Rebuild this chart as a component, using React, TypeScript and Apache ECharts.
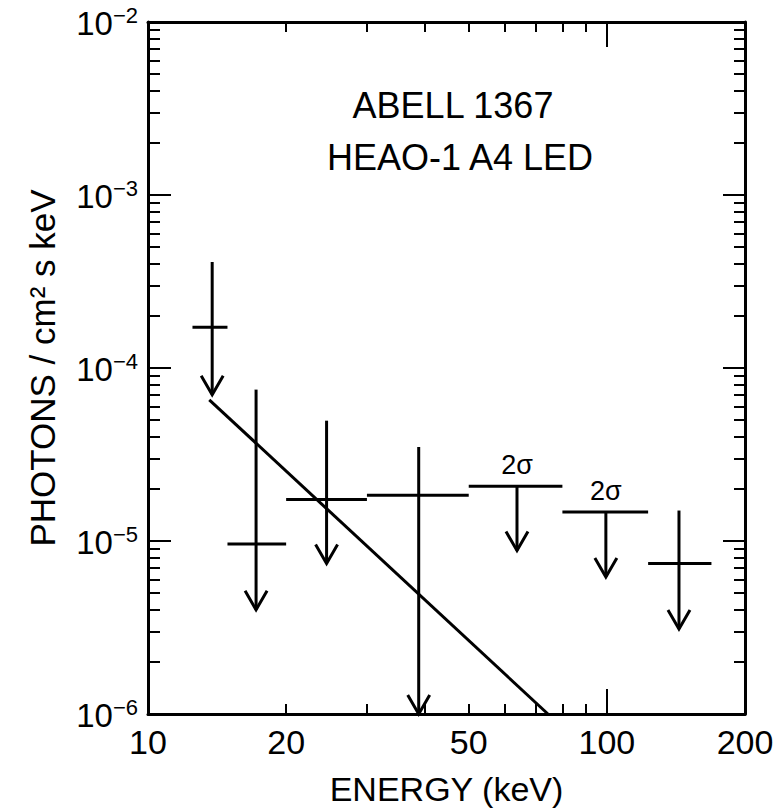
import React, { useEffect, useRef } from "react";
import * as echarts from "echarts";

// ---- data (energies in keV, flux in photons / cm^2 s keV) ----
const energyCenter = [13.8, 17.2, 24.5, 38.9, 63.7, 99.5, 143.6];
const energyLow = [12.5, 14.9, 20, 30, 50, 80, 123];
const energyHigh = [14.9, 20, 30, 50, 80, 123, 169];
const flux = [1.72e-4, 9.6e-6, 1.74e-5, 1.84e-5, 2.07e-5, 1.47e-5, 7.4e-6];
const fluxUpper = [4.1e-4, 7.5e-5, 4.96e-5, 3.5e-5, 2.07e-5, 1.47e-5, 1.5e-5];
const fluxArrowTip = [7.0e-5, 4.0e-6, 7.4e-6, 1.0e-6, 8.8e-6, 6.2e-6, 3.1e-6];
const twoSigma = [false, false, false, false, true, true, false];

const modelEnergy = [13.6, 74.4];
const modelFlux = [6.55e-5, 1.0e-6];

const xLabelValues = [10, 20, 50, 100, 200];
const xMinorTickValues = [20, 30, 40, 50, 60, 70, 80, 90];
const xMajorTickValues = [100];
const yDecades = [-6, -5, -4, -3, -2];

const titleLines = ["ABELL 1367", "HEAO-1 A4 LED"];

const FONT = '"Liberation Sans", Arial, sans-serif';
const L = Math.log10;

export default function App() {
  const ref = useRef<HTMLDivElement>(null);
  useEffect(() => {
    if (!ref.current) return;
    const chart = echarts.init(ref.current, null, { renderer: "svg" });

    const xMin = L(10);
    const xMax = L(200);
    const yMin = -6;
    const yMax = -2;

    const yMinorTicks: number[] = [];
    for (let e = -6; e < -2; e++) {
      for (let k = 2; k <= 9; k++) yMinorTicks.push(L(k * Math.pow(10, e)));
    }
    const yMajorTicks = yDecades.filter((d) => d > yMin && d < yMax);

    const baseX = (pos: string, ticks: number[], len: number, showLine: boolean, showLabel: boolean) => ({
      type: "value",
      position: pos,
      min: xMin,
      max: xMax,
      splitLine: { show: false },
      axisLine: { show: showLine, lineStyle: { color: "#000", width: 3 } },
      axisTick: {
        show: true,
        inside: true,
        length: len,
        customValues: ticks,
        lineStyle: { color: "#000", width: 2 },
      },
      axisLabel: showLabel
        ? {
            show: true,
            customValues: xLabelValues.map(L),
            formatter: (v: number) => String(Math.round(Math.pow(10, v))),
            color: "#000",
            fontSize: 34,
            fontFamily: FONT,
            margin: 11,
          }
        : { show: false },
    });

    const baseY = (pos: string, ticks: number[], len: number, showLine: boolean, showLabel: boolean) => ({
      type: "value",
      position: pos,
      min: yMin,
      max: yMax,
      splitLine: { show: false },
      axisLine: { show: showLine, lineStyle: { color: "#000", width: 3 } },
      axisTick: {
        show: true,
        inside: true,
        length: len,
        customValues: ticks,
        lineStyle: { color: "#000", width: 2 },
      },
      axisLabel: showLabel
        ? {
            show: true,
            customValues: yDecades,
            formatter: (v: number) => `{b|10}{s|\u2212${-Math.round(v)}}`,
            margin: 10,
            rich: {
              b: { fontSize: 33, fontFamily: FONT, color: "#000", verticalAlign: "bottom", lineHeight: 36 },
              s: { fontSize: 22, fontFamily: FONT, color: "#000", verticalAlign: "top", lineHeight: 22 },
            },
          }
        : { show: false },
    });

    const xAxes: any[] = [
      {
        ...baseX("bottom", xMinorTickValues.map(L), 10, true, true),
        name: "ENERGY (keV)",
        nameLocation: "middle",
        nameGap: 58,
        nameTextStyle: { fontSize: 34, fontFamily: FONT, color: "#000" },
      },
      baseX("bottom", xMajorTickValues.map(L), 25, false, false),
      baseX("top", xMinorTickValues.map(L), 10, true, false),
      baseX("top", xMajorTickValues.map(L), 25, false, false),
    ];
    const yAxes: any[] = [
      {
        ...baseY("left", yMinorTicks, 12, true, true),
        name: "PHOTONS / cm\u00B2 s keV",
        nameLocation: "middle",
        nameRotate: 90,
        nameGap: 88,
        nameTextStyle: { fontSize: 35, fontFamily: FONT, color: "#000" },
      },
      baseY("left", yMajorTicks, 23, false, false),
      baseY("right", yMinorTicks, 11, true, false),
      baseY("right", yMajorTicks, 22, false, false),
    ];

    const errData = energyCenter.map((c, i) => [
      L(c),
      L(energyLow[i]),
      L(energyHigh[i]),
      L(flux[i]),
      L(fluxUpper[i]),
      L(fluxArrowTip[i]),
      twoSigma[i] ? 1 : 0,
    ]);

    const stroke = { stroke: "#000", lineWidth: 3, fill: "none" };

    const option: any = {
      animation: false,
      backgroundColor: "#fff",
      grid: { left: 148, right: 36, top: 22, bottom: 93, containLabel: false },
      xAxis: xAxes,
      yAxis: yAxes,
      graphic: titleLines.map((t, i) => ({
        type: "text",
        x: i === 0 ? 453 : 460,
        y: i === 0 ? 105 : 157,
        style: {
          text: t,
          align: "center",
          verticalAlign: "middle",
          fontSize: 36,
          fontFamily: FONT,
          fill: "#000",
        },
      })),
      series: [
        {
          type: "line",
          xAxisIndex: 0,
          yAxisIndex: 0,
          data: modelEnergy.map((e, i) => [L(e), L(modelFlux[i])]),
          showSymbol: false,
          symbol: "none",
          lineStyle: { color: "#000", width: 3 },
          silent: true,
        },
        {
          type: "custom",
          xAxisIndex: 0,
          yAxisIndex: 0,
          data: errData,
          encode: { x: 0, y: 3 },
          renderItem: (params: any, api: any) => {
            const xc = api.value(0);
            const xl = api.value(1);
            const xh = api.value(2);
            const y = api.value(3);
            const yt = api.value(4);
            const yb = api.value(5);
            const sig = api.value(6);
            const pL = api.coord([xl, y]);
            const pH = api.coord([xh, y]);
            const pT = api.coord([xc, yt]);
            const pB = api.coord([xc, yb]);
            const children: any[] = [
              { type: "line", shape: { x1: pL[0], y1: pL[1], x2: pH[0], y2: pH[1] }, style: stroke },
              { type: "line", shape: { x1: pT[0], y1: pT[1], x2: pB[0], y2: pB[1] }, style: stroke },
              {
                type: "polyline",
                shape: {
                  points: [
                    [pB[0] - 11, pB[1] - 19],
                    [pB[0], pB[1]],
                    [pB[0] + 11, pB[1] - 19],
                  ],
                },
                style: stroke,
              },
            ];
            if (sig) {
              children.push({
                type: "text",
                x: pT[0],
                y: pL[1] - 8,
                style: {
                  text: "2\u03C3",
                  align: "center",
                  verticalAlign: "bottom",
                  fontSize: 27,
                  fontFamily: FONT,
                  fill: "#000",
                },
              });
            }
            return { type: "group", children };
          },
        },
      ],
    };

    chart.setOption(option);
    return () => chart.dispose();
  }, []);

  return (
    <div
      ref={ref}
      style={{ position: "fixed", left: 0, top: 0, width: 781, height: 811, background: "#fff" }}
    />
  );
}
